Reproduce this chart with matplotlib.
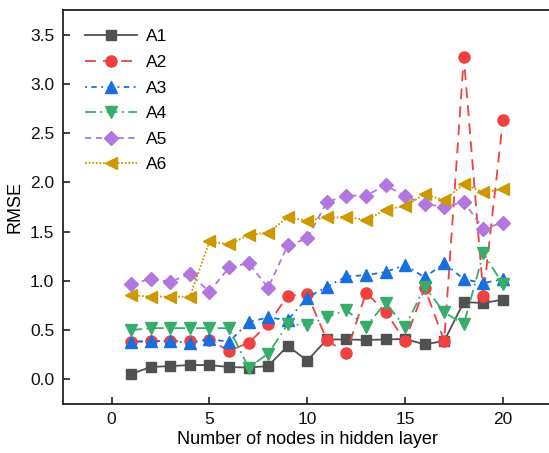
import matplotlib
matplotlib.use("Agg")
import matplotlib.pyplot as plt

x = list(range(1, 21))
A1 = [0.055, 0.125, 0.135, 0.145, 0.145, 0.125, 0.12, 0.135, 0.34, 0.19,
      0.405, 0.405, 0.40, 0.405, 0.41, 0.355, 0.39, 0.785, 0.775, 0.81]
A2 = [0.38, 0.39, 0.39, 0.39, 0.40, 0.29, 0.37, 0.56, 0.85, 0.865,
      0.40, 0.265, 0.88, 0.685, 0.39, 0.93, 0.39, 3.27, 0.85, 2.63]
A3 = [0.38, 0.39, 0.39, 0.37, 0.41, 0.38, 0.58, 0.63, 0.60, 0.83,
      0.94, 1.045, 1.058, 1.09, 1.16, 1.035, 1.18, 1.017, 0.977, 1.017]
A4 = [0.50, 0.52, 0.52, 0.52, 0.52, 0.52, 0.12, 0.26, 0.56, 0.55,
      0.63, 0.705, 0.53, 0.78, 0.53, 0.94, 0.68, 0.56, 1.28, 0.966]
A5 = [0.967, 1.02, 0.99, 1.07, 0.89, 1.136, 1.18, 0.93, 1.36, 1.43,
      1.80, 1.865, 1.865, 1.97, 1.86, 1.78, 1.75, 1.80, 1.53, 1.59]
A6 = [0.855, 0.84, 0.84, 0.84, 1.40, 1.37, 1.465, 1.49, 1.645, 1.61,
      1.645, 1.645, 1.62, 1.72, 1.76, 1.88, 1.82, 1.98, 1.90, 1.93]
labels = ["A1", "A2", "A3", "A4", "A5", "A6"]
xticks = [0, 5, 10, 15, 20]
yticks = [0.0, 0.5, 1.0, 1.5, 2.0, 2.5, 3.0, 3.5]

plt.rcParams['font.family'] = ['Liberation Sans', 'DejaVu Sans']

fig = plt.figure(figsize=(5.49, 4.53), dpi=100)
ax = fig.add_axes([0.1142, 0.1082, 0.891, 0.8698])

colors = ["#515151", "#F14040", "#1A6FDF", "#37AD6B", "#B177DE", "#CC9900"]
markers = ["s", "o", "^", "v", "D", "<"]
msizes = [6.5, 8, 8, 8, 7, 8]
styles = ["-", (0, (6, 4)), (0, (1, 2.5, 3, 2.5)), (0, (6, 2.5, 1, 2.5)),
          (0, (3.5, 2.5)), (0, (1, 1))]
series = [A1, A2, A3, A4, A5, A6]

for s, lab, c, m, ms, ls in zip(series, labels, colors, markers, msizes, styles):
    ax.plot(x, s, color=c, marker=m, markersize=ms, linestyle=ls,
            linewidth=1.3, label=lab, markeredgecolor=c)

ax.set_xlim(-2.5, 22.5)
ax.set_ylim(-0.25, 3.75)
ax.set_xticks(xticks)
ax.set_yticks(yticks)
ax.set_yticklabels([f"{v:.1f}" for v in yticks])
ax.tick_params(direction='in', length=5, width=1.2, labelsize=12.5,
               top=False, right=False, pad=6, colors="#222222",
               labelcolor="#111111")
for sp in ax.spines.values():
    sp.set_linewidth(1.3)
    sp.set_color("#222222")
ax.set_xlabel("Number of nodes in hidden layer", fontsize=13, labelpad=3)
ax.set_ylabel("RMSE", fontsize=13, labelpad=5)

leg = ax.legend(loc='upper left', frameon=False, fontsize=12.5,
                handlelength=3.0, labelspacing=0.6, handletextpad=0.5,
                bbox_to_anchor=(0.01, 0.995), borderaxespad=0.6)

fig.savefig("out.png", dpi=100)
